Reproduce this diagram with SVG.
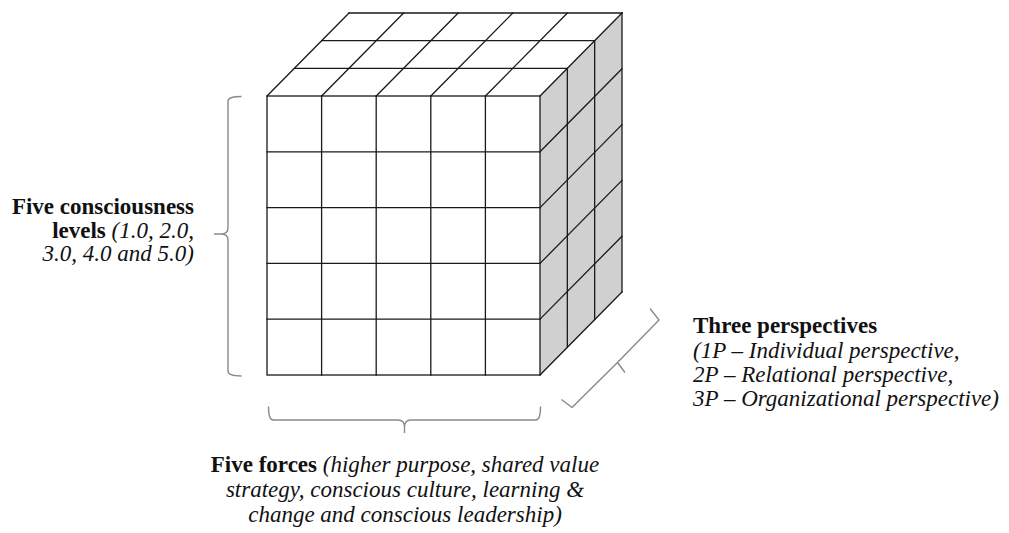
<svg xmlns="http://www.w3.org/2000/svg" width="1009" height="533" viewBox="0 0 1009 533">
<style>
.grid{stroke:#1a1a1a;stroke-width:1.3;fill:none;stroke-linecap:square}
.brace{stroke:#8a8a8a;stroke-width:1.4;fill:none;stroke-linejoin:round}
text{font-family:"Liberation Serif","Times New Roman",serif;font-size:23px;fill:#111}
.b{font-weight:bold}
.i{font-style:italic}
</style>
<rect width="1009" height="533" fill="#fff"/>
<g id="cube">
<polygon points="540,96 622,13 622,292 540,375" fill="#d0d0d0"/>
<polygon points="267,96 540,96 622,13 349,13" fill="#fff"/>
<g class="grid">
<!-- front face -->
<rect x="267" y="96" width="273" height="279"/>
<path d="M321.6,96V375M376.2,96V375M430.8,96V375M485.4,96V375"/>
<path d="M267,151.8H540M267,207.6H540M267,263.4H540M267,319.2H540"/>
<!-- top face -->
<path d="M294.33,68.33H567.33M321.67,40.67H594.67M349,13H622"/>
<path d="M267,96L349,13M321.6,96L403.6,13M376.2,96L458.2,13M430.8,96L512.8,13M485.4,96L567.4,13M540,96L622,13"/>
<!-- right face -->
<path d="M567.33,68.33V347.33M594.67,40.67V319.67M622,13V292"/>
<path d="M540,151.8L622,68.8M540,207.6L622,124.6M540,263.4L622,180.4M540,319.2L622,236.2M540,375L622,292"/>
</g>
</g>
<g id="connectors">
<path class="brace" d="M241.5,96.5Q228,96.5 228,101V228Q228,234 221,234H214M221,234Q228,234 228,240V371Q228,376 241.5,376"/>
<path class="brace" d="M268.5,406.5Q268.5,420 273,420H398Q404.5,420 404.5,427V433M404.5,427Q404.5,420 411,420H536Q540.5,420 540.5,406.5"/>
<path class="brace" d="M650,308.5L659,320L617.5,362.5L625,372.5M617.5,362.5L572,407.5L561.5,399.5"/>
</g>
<g id="label-levels">
<text x="194" y="214" text-anchor="end" class="b">Five consciousness</text>
<text x="194" y="237.5" text-anchor="end"><tspan class="b">levels </tspan><tspan class="i">(1.0, 2.0,</tspan></text>
<text x="194" y="261" text-anchor="end" class="i">3.0, 4.0 and 5.0)</text>
</g>
<g id="label-forces">
<text x="405" y="471.5" text-anchor="middle"><tspan class="b">Five forces </tspan><tspan class="i">(higher purpose, shared value</tspan></text>
<text x="405" y="496.5" text-anchor="middle" class="i">strategy, conscious culture, learning &amp;</text>
<text x="405" y="521.5" text-anchor="middle" class="i">change and conscious leadership)</text>
</g>
<g id="label-perspectives">
<text x="693" y="333.3" class="b">Three perspectives</text>
<text x="693" y="357.6" class="i">(1P – Individual perspective,</text>
<text x="693" y="381.9" class="i">2P – Relational perspective,</text>
<text x="693" y="406.2" class="i">3P – Organizational perspective)</text>
</g>
</svg>
